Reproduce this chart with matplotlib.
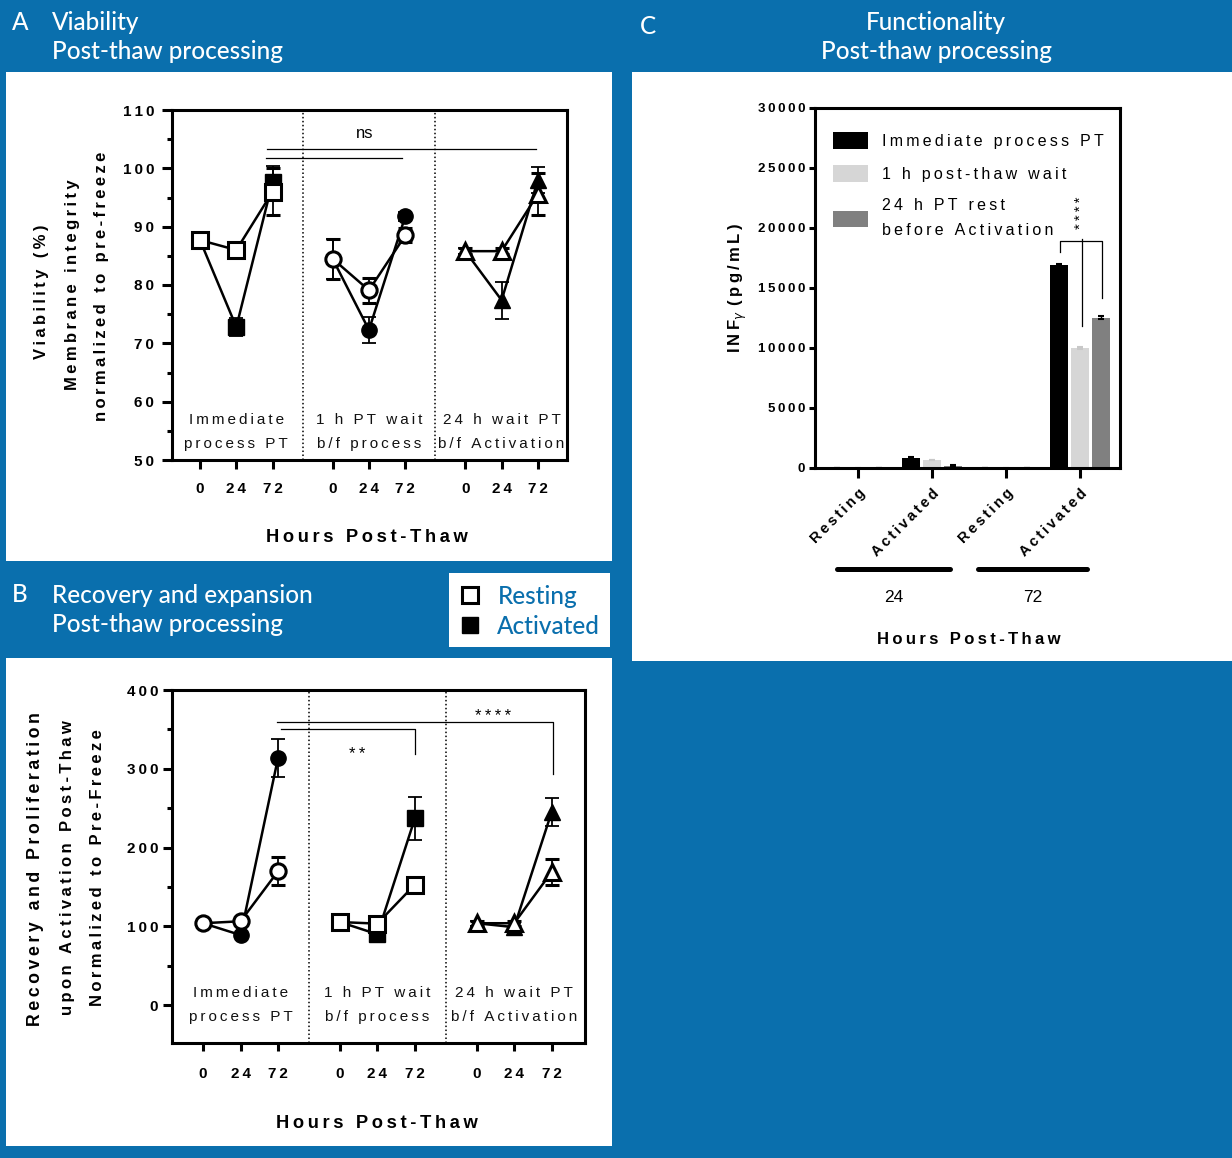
import numpy as np
import matplotlib
matplotlib.use("Agg")
import matplotlib.pyplot as plt
from matplotlib.patches import Rectangle
from matplotlib.lines import Line2D

W, H = 1232, 1158
BLUE = "#0a6fad"
THIN = "\u2009"

plt.rcParams["font.family"] = ["Liberation Sans", "DejaVu Sans"]
plt.rcParams["axes.linewidth"] = 2.2

# time-course panels: rows = processing protocol, columns = 0 / 24 / 72 h
hours = ["0", "24", "72"]
group_names = ["Immediate\nprocess PT", "1 h PT wait\nb/f process", "24 h wait PT\nb/f Activation"]
group_start = [0, 3.65, 7.3]
via_markers = ["s", "o", "^"]
rec_markers = ["o", "s", "^"]

via_rest = [[87.7, 86.0, 96.0], [84.5, 79.1, 88.5], [85.8, 85.8, 95.6]]
via_rest_sd = [[0.8, 0.6, 4.0], [3.4, 2.1, 1.2], [0.5, 0.5, 3.6]]
via_act = [[87.7, 72.8, 97.7], [84.5, 72.3, 91.8], [85.8, 77.4, 98.0]]
via_act_sd = [[0.8, 1.6, 2.7], [3.4, 2.2, 0.8], [0.5, 3.2, 2.3]]

rec_rest = [[104, 106.5, 170], [105.5, 103.5, 153], [104, 104, 169]]
rec_rest_sd = [[3, 3, 18], [3, 3, 4], [3, 3, 17]]
rec_act = [[104, 89, 314], [105.5, 90, 237], [104, 99, 245]]
rec_act_sd = [[3, 3, 24], [3, 3, 27], [3, 5, 18]]

# IFN-gamma release
ifn_cats = ["Resting", "Activated", "Resting", "Activated"]
ifn_hours = ["24", "72"]
ifn_series = ["Immediate process PT", "1 h post-thaw wait", "24 h PT rest\nbefore Activation"]
ifn_colors = ["#000000", "#d6d6d6", "#808080"]
ifn_err_colors = ["#000000", "#c8c8c8", "#000000"]
ifn_immediate = [40, 860, 40, 16900]
ifn_wait1h = [30, 670, 30, 10030]
ifn_rest24 = [20, 190, 20, 12530]
ifn_immediate_sd = [0, 40, 0, 80]
ifn_wait1h_sd = [0, 30, 0, 90]
ifn_rest24_sd = [0, 20, 0, 150]


def sp(s):
    # GraphPad-style letter spacing
    return "\n".join(THIN.join(line) for line in s.split("\n"))


fig = plt.figure(figsize=(W / 100, H / 100), dpi=100, facecolor=BLUE)


def px_axes(x0, y0, x1, y1):
    return fig.add_axes([x0 / W, 1 - y1 / H, (x1 - x0) / W, (y1 - y0) / H])


def fig_text(x, y, s, **kw):
    return fig.text(x / W, 1 - y / H, s, **kw)


def white_box(x0, y0, x1, y1):
    fig.add_artist(Rectangle((x0 / W, 1 - y1 / H), (x1 - x0) / W, (y1 - y0) / H,
                             transform=fig.transFigure, facecolor="white",
                             edgecolor="none", zorder=-1))


white_box(6, 72, 612, 561)
white_box(6, 658, 612, 1146)
white_box(632, 72, 1232, 661)
white_box(449, 573, 610, 647)

head = dict(family="Lato", color="white", fontsize=17.5, fontweight="medium", va="baseline")
fig_text(12, 30, "A", **head)
fig_text(52, 30, "Viability", **head)
fig_text(52, 59, "Post-thaw processing", **head)
fig_text(12, 602, "B", **head)
fig_text(52, 603, "Recovery and expansion", **head)
fig_text(52, 632, "Post-thaw processing", **head)
fig_text(640, 34, "C", **head)
fig_text(936, 30, "Functionality", ha="center", **head)
fig_text(936, 59, "Post-thaw processing", ha="center", **head)


def time_course(ax, rest, rest_sd, act, act_sd, markers, label_y):
    ticks = []
    for g in range(3):
        x = group_start[g] + np.arange(3)
        ticks.extend(x)
        style = dict(color="black", lw=1.8, marker=markers[g], ms=11,
                     capsize=5, elinewidth=1.3, capthick=1.3)
        ax.errorbar(x, act[g], yerr=act_sd[g], mfc="black", mec="black", zorder=3, **style)
        ax.errorbar(x, rest[g], yerr=rest_sd[g], mfc="white", mec="black", mew=2.2,
                    zorder=4, **style)
        for i, line in enumerate(group_names[g].split("\n")):
            ax.text(group_start[g] + 1, label_y[i], sp(line), ha="center", va="center",
                    fontsize=11, color="#111111")
    for g in range(2):
        ax.axvline((group_start[g] + 2 + group_start[g + 1]) / 2, color="black",
                   lw=1.1, ls=(0, (1, 1.6)))
    ax.set_xticks(ticks)
    ax.set_xticklabels([sp(h) for h in hours] * 3, fontweight="bold", fontsize=11)
    ax.tick_params(axis="y", which="both", width=2.2)
    ax.tick_params(axis="x", width=2.2)


# ---- A: viability ----
axA = px_axes(172, 110, 567, 460)
time_course(axA, via_rest, via_rest_sd, via_act, via_act_sd, via_markers, [56.8, 52.7])
axA.set_xlim(-0.77, 10.1)
axA.set_ylim(50, 110)
axA.set_yticks(range(50, 111, 10))
axA.set_yticks(range(55, 110, 10), minor=True)
axA.set_yticklabels([sp(str(v)) for v in range(50, 111, 10)], fontweight="bold", fontsize=11)
axA.tick_params(axis="y", which="major", length=7.2, pad=5.5)
axA.tick_params(axis="y", which="minor", length=3.6)
axA.tick_params(axis="x", length=6.5, pad=9)
axA.plot([1.85, 9.25], [103.3, 103.3], color="black", lw=0.9)
axA.plot([1.83, 5.55], [101.7, 101.7], color="black", lw=0.9)
axA.text(4.52, 106, "ns", ha="center", va="center", fontsize=12)

fig_text(42, 292, sp("Viability (%)"), rotation=90, ha="center", va="center",
         fontsize=12, fontweight="bold")
fig_text(72, 285, sp("Membrane integrity"), rotation=90, ha="center", va="center",
         fontsize=12, fontweight="bold")
fig_text(102, 286, sp("normalized to pre-freeze"), rotation=90, ha="center", va="center",
         fontsize=12, fontweight="bold")
fig_text(367, 538, sp("Hours Post-Thaw"), ha="center", va="center", fontsize=13.2,
         fontweight="bold")

# ---- B: recovery and proliferation ----
axB = px_axes(172, 690, 585, 1043)
time_course(axB, rec_rest, rec_rest_sd, rec_act, rec_act_sd, rec_markers, [15.2, -15.2])
axB.set_xlim(-0.83, 10.19)
axB.set_ylim(-48, 400)
axB.set_yticks(range(0, 401, 100))
axB.set_yticks(range(50, 400, 100), minor=True)
axB.set_yticklabels([sp(str(v)) for v in range(0, 401, 100)], fontweight="bold", fontsize=11)
axB.tick_params(axis="y", which="major", length=6.5, pad=3.5)
axB.tick_params(axis="y", which="minor", length=3.6)
axB.tick_params(axis="x", length=6, pad=11)
axB.plot([1.97, 9.33, 9.33], [360, 360, 294], color="black", lw=0.9)
axB.plot([2.08, 5.65, 5.65], [351, 351, 318.6], color="black", lw=0.9)
axB.text(4.1, 318, sp("**"), ha="center", va="center", fontsize=12)
axB.text(7.73, 367, sp("****"), ha="center", va="center", fontsize=12)

fig_text(36, 869, sp("Recovery and Proliferation"), rotation=90, ha="center", va="center",
         fontsize=12.8, fontweight="bold")
fig_text(68, 868, sp("upon Activation Post-Thaw"), rotation=90, ha="center", va="center",
         fontsize=12, fontweight="bold")
fig_text(98, 868, sp("Normalized to Pre-Freeze"), rotation=90, ha="center", va="center",
         fontsize=12, fontweight="bold")
fig_text(377, 1124, sp("Hours Post-Thaw"), ha="center", va="center", fontsize=13.2,
         fontweight="bold")

legB = [Line2D([], [], ls="none", marker="s", ms=11, mfc="white", mec="black", mew=2.2),
        Line2D([], [], ls="none", marker="s", ms=11, mfc="black", mec="black")]
fig.legend(legB, ["Resting", "Activated"], loc="upper left",
           bbox_to_anchor=(458 / W, 1 - 585 / H), frameon=False, borderpad=0,
           borderaxespad=0, handlelength=1.0, handletextpad=0.62, labelspacing=0.28,
           prop=dict(family="Lato", size=17.5, weight="medium"), labelcolor=BLUE)

# ---- C: IFN-gamma ----
axC = px_axes(815, 108, 1120, 468)
xc = np.arange(len(ifn_cats))
offsets = [-0.28, 0.0, 0.28]
for k, (vals, sd) in enumerate([(ifn_immediate, ifn_immediate_sd),
                                (ifn_wait1h, ifn_wait1h_sd),
                                (ifn_rest24, ifn_rest24_sd)]):
    axC.bar(xc + offsets[k], vals, width=0.245, color=ifn_colors[k], yerr=sd,
            capsize=2.5, ecolor=ifn_err_colors[k],
            error_kw=dict(elinewidth=1, capthick=1.5), label=sp(ifn_series[k]))
axC.set_xlim(-0.58, 3.54)
axC.set_ylim(0, 30000)
axC.set_yticks(range(0, 30001, 5000))
axC.set_yticklabels([sp(str(v)) for v in range(0, 30001, 5000)], fontweight="bold",
                    fontsize=9.5)
axC.set_xticks(xc)
axC.set_xticklabels([sp(c) for c in ifn_cats], rotation=45, ha="right",
                    rotation_mode="anchor", fontweight="bold", fontsize=10.5)
axC.tick_params(axis="y", length=4.5, width=2.2, pad=2.5)
axC.tick_params(axis="x", length=7, width=2.2, pad=6)
axC.plot([2.73, 2.73, 3.293, 3.293], [18000, 18900, 18900, 14170], color="black", lw=0.9)
axC.plot([3.024, 3.024], [19100, 11860], color="black", lw=0.9)
axC.text(3.01, 21300, sp("****"), rotation=90, ha="center", va="center", fontsize=11)
legC = axC.legend(loc="upper left", bbox_to_anchor=(0.059, 0.932), frameon=False,
                  borderpad=0, borderaxespad=0, handlelength=2.2, handleheight=1.2,
                  handletextpad=0.85, labelspacing=1.02, fontsize=11.5)
for t in legC.get_texts():
    t.set_linespacing(1.85)

xt = axC.get_xaxis_transform()
for x0, x1, lab in [(-0.284, 1.243, ifn_hours[0]), (1.62, 3.09, ifn_hours[1])]:
    axC.plot([x0, x1], [-0.281, -0.281], transform=xt, clip_on=False, color="black",
             lw=3.6, solid_capstyle="round")
    axC.text((x0 + x1) / 2, -0.361, lab, transform=xt, ha="center", va="center",
             fontsize=12.5)
fig_text(738, 288, sp("INF") + r"$_{\gamma}$" + THIN + THIN + sp("(pg/mL)"), rotation=90,
         ha="center", va="center", fontsize=12, fontweight="bold")
fig_text(969, 639, sp("Hours Post-Thaw"), ha="center", va="center", fontsize=12,
         fontweight="bold")

fig.savefig("out.png", dpi=100, facecolor=BLUE)
